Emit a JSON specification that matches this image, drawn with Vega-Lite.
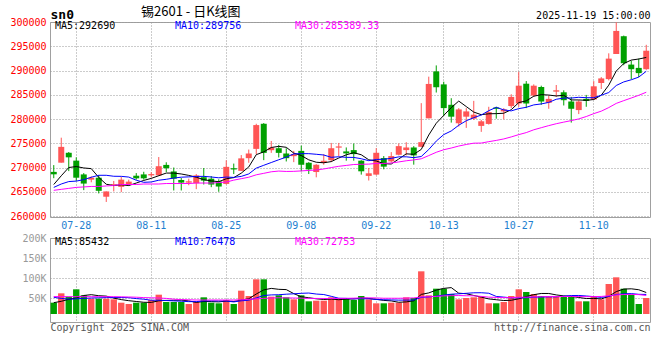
{
"$schema": "https://vega.github.io/schema/vega-lite/v6.json",
"autosize": {"type": "pad"},
"padding": {"left": 9, "top": 5, "right": 11, "bottom": 0},
"background": "#FFFFFF",
"bounds": "flush",
"spacing": 21,
"config": {
  "view": {"stroke": "#A0A0A0", "strokeWidth": 1},
  "axis": {"labelFont": "DejaVu Sans Mono", "labelFontSize": 10, "tickSize": 0, "domain": false, "gridColor": "#999999", "gridDash": [1, 2], "gridWidth": 1, "labelPadding": 4, "titleFont": "DejaVu Sans Mono", "titleFontWeight": "normal", "titleFontSize": 10, "titleColor": "#000000"}
},
"resolve": {"scale": {"color": "independent"}, "legend": {"color": "independent"}},
"datasets": {"k": [
{"d":"2025-07-23","o":269100,"h":270500,"l":267800,"c":268600,"ma5":266500,"ma10":265900,"ma30":265300,"vol":38300,"vma5":38300,"vma10":51700,"vma30":53500},
{"d":"2025-07-24","o":271000,"h":276150,"l":271000,"c":274260,"ma5":268300,"ma10":266600,"ma30":265500,"vol":61700,"vma5":41700,"vma10":49000,"vma30":53500},
{"d":"2025-07-25","o":273040,"h":273200,"l":269260,"c":272100,"ma5":270000,"ma10":267100,"ma30":265700,"vol":53300,"vma5":46700,"vma10":47000,"vma30":53300},
{"d":"2025-07-28","o":271420,"h":272100,"l":267230,"c":267900,"ma5":270200,"ma10":267200,"ma30":265900,"vol":71700,"vma5":50000,"vma10":48000,"vma30":53300},
{"d":"2025-07-29","o":268580,"h":268850,"l":265340,"c":266690,"ma5":269910,"ma10":267500,"ma30":266000,"vol":56700,"vma5":56300,"vma10":49000,"vma30":53300},
{"d":"2025-07-30","o":267500,"h":268170,"l":266960,"c":267900,"ma5":269770,"ma10":268000,"ma30":266100,"vol":48300,"vma5":58300,"vma10":50000,"vma30":53300},
{"d":"2025-07-31","o":267900,"h":268450,"l":264660,"c":265200,"ma5":267960,"ma10":268400,"ma30":266100,"vol":48300,"vma5":55700,"vma10":50500,"vma30":53300},
{"d":"2025-08-01","o":263980,"h":265070,"l":262900,"c":265070,"ma5":266550,"ma10":268400,"ma30":266200,"vol":48300,"vma5":54700,"vma10":51000,"vma30":53300},
{"d":"2025-08-04","o":266280,"h":267230,"l":265070,"c":266550,"ma5":266280,"ma10":268200,"ma30":266300,"vol":46700,"vma5":49700,"vma10":51200,"vma30":53300},
{"d":"2025-08-05","o":266010,"h":268040,"l":264930,"c":267500,"ma5":266440,"ma10":268180,"ma30":266500,"vol":38300,"vma5":46000,"vma10":51200,"vma30":53000},
{"d":"2025-08-06","o":266550,"h":267500,"l":266280,"c":267090,"ma5":266280,"ma10":268030,"ma30":266500,"vol":35000,"vma5":43300,"vma10":50800,"vma30":52500},
{"d":"2025-08-07","o":268310,"h":268850,"l":267500,"c":267770,"ma5":266800,"ma10":267380,"ma30":266500,"vol":38300,"vma5":41300,"vma10":48500,"vma30":52000},
{"d":"2025-08-08","o":268580,"h":269120,"l":267500,"c":267770,"ma5":267340,"ma10":266950,"ma30":266600,"vol":38300,"vma5":39300,"vma10":47000,"vma30":51000},
{"d":"2025-08-11","o":268380,"h":269050,"l":267970,"c":268650,"ma5":267760,"ma10":267020,"ma30":266600,"vol":45000,"vma5":39000,"vma10":44400,"vma30":50500},
{"d":"2025-08-12","o":268380,"h":272160,"l":268240,"c":270270,"ma5":268310,"ma10":267380,"ma30":266600,"vol":58300,"vma5":43000,"vma10":44500,"vma30":50000},
{"d":"2025-08-13","o":270540,"h":271080,"l":269050,"c":269860,"ma5":268860,"ma10":267570,"ma30":266700,"vol":40000,"vma5":44000,"vma10":43700,"vma30":49000},
{"d":"2025-08-14","o":269190,"h":270000,"l":265270,"c":267700,"ma5":268850,"ma10":267830,"ma30":266700,"vol":40000,"vma5":44300,"vma10":42800,"vma30":47000},
{"d":"2025-08-15","o":267430,"h":267840,"l":265270,"c":266890,"ma5":268670,"ma10":268010,"ma30":266700,"vol":40000,"vma5":44700,"vma10":42000,"vma30":46000},
{"d":"2025-08-18","o":266890,"h":267700,"l":266350,"c":267160,"ma5":268380,"ma10":268070,"ma30":266700,"vol":35000,"vma5":42700,"vma10":40900,"vma30":45500},
{"d":"2025-08-19","o":266760,"h":268650,"l":265540,"c":268380,"ma5":268000,"ma10":268160,"ma30":266800,"vol":40000,"vma5":39000,"vma10":41000,"vma30":45000},
{"d":"2025-08-20","o":268000,"h":269900,"l":266500,"c":267300,"ma5":267490,"ma10":268180,"ma30":266800,"vol":51700,"vma5":41300,"vma10":42700,"vma30":45000},
{"d":"2025-08-21","o":267700,"h":268240,"l":265950,"c":266490,"ma5":267240,"ma10":268050,"ma30":266800,"vol":38300,"vma5":41000,"vma10":42700,"vma30":45000},
{"d":"2025-08-22","o":267160,"h":267570,"l":265000,"c":266080,"ma5":267080,"ma10":267880,"ma30":266900,"vol":36700,"vma5":40300,"vma10":42500,"vma30":45000},
{"d":"2025-08-25","o":266620,"h":271490,"l":266490,"c":270140,"ma5":267680,"ma10":268030,"ma30":267000,"vol":45000,"vma5":42300,"vma10":42500,"vma30":45000},
{"d":"2025-08-26","o":269860,"h":270810,"l":268650,"c":269600,"ma5":267920,"ma10":267960,"ma30":267400,"vol":35000,"vma5":41300,"vma10":40200,"vma30":45000},
{"d":"2025-08-27","o":269320,"h":272570,"l":269320,"c":271890,"ma5":268840,"ma10":268170,"ma30":267700,"vol":68300,"vma5":44700,"vma10":43000,"vma30":45500},
{"d":"2025-08-28","o":271930,"h":273700,"l":270980,"c":272890,"ma5":270120,"ma10":268680,"ma30":268000,"vol":55000,"vma5":48000,"vma10":44500,"vma30":46500},
{"d":"2025-08-29","o":273840,"h":279020,"l":272750,"c":278750,"ma5":272650,"ma10":269870,"ma30":268500,"vol":96700,"vma5":60000,"vma10":50200,"vma30":48000},
{"d":"2025-09-01","o":279020,"h":279160,"l":271520,"c":273020,"ma5":273230,"ma10":270460,"ma30":268800,"vol":96700,"vma5":70300,"vma10":56300,"vma30":49000},
{"d":"2025-09-02","o":273570,"h":275480,"l":273020,"c":274110,"ma5":274130,"ma10":271030,"ma30":269120,"vol":53300,"vma5":74000,"vma10":57700,"vma30":50000},
{"d":"2025-09-03","o":273980,"h":274660,"l":272070,"c":273020,"ma5":274360,"ma10":271600,"ma30":269270,"vol":56700,"vma5":71700,"vma10":58200,"vma30":50600},
{"d":"2025-09-04","o":272890,"h":273980,"l":271250,"c":271930,"ma5":274170,"ma10":272150,"ma30":269190,"vol":51700,"vma5":71000,"vma10":59500,"vma30":50200},
{"d":"2025-09-05","o":272340,"h":273430,"l":271110,"c":272750,"ma5":272970,"ma10":272810,"ma30":269210,"vol":46700,"vma5":61000,"vma10":60500,"vma30":50000},
{"d":"2025-09-08","o":273430,"h":274520,"l":269200,"c":270570,"ma5":272480,"ma10":272860,"ma30":269300,"vol":56700,"vma5":53000,"vma10":61700,"vma30":49500},
{"d":"2025-09-09","o":270980,"h":271110,"l":268660,"c":269610,"ma5":271580,"ma10":272860,"ma30":269400,"vol":41700,"vma5":50700,"vma10":62400,"vma30":49000},
{"d":"2025-09-10","o":269070,"h":270700,"l":267980,"c":270570,"ma5":271090,"ma10":272730,"ma30":269490,"vol":43300,"vma5":48000,"vma10":59900,"vma30":48900},
{"d":"2025-09-11","o":270980,"h":272750,"l":270570,"c":271390,"ma5":270980,"ma10":272580,"ma30":269700,"vol":43300,"vma5":46300,"vma10":58700,"vma30":48700},
{"d":"2025-09-12","o":271520,"h":275070,"l":271110,"c":273980,"ma5":271220,"ma10":272100,"ma30":269990,"vol":51700,"vma5":47300,"vma10":54200,"vma30":48800},
{"d":"2025-09-15","o":274100,"h":275070,"l":272340,"c":274350,"ma5":271960,"ma10":272220,"ma30":270250,"vol":48300,"vma5":45700,"vma10":49400,"vma30":48900},
{"d":"2025-09-16","o":273320,"h":274140,"l":271410,"c":272910,"ma5":272620,"ma10":272100,"ma30":270430,"vol":50000,"vma5":47300,"vma10":49000,"vma30":49200},
{"d":"2025-09-17","o":273590,"h":274950,"l":271410,"c":272770,"ma5":273060,"ma10":272080,"ma30":270620,"vol":45000,"vma5":47700,"vma10":47900,"vma30":49600},
{"d":"2025-09-18","o":271410,"h":271500,"l":268540,"c":269220,"ma5":272630,"ma10":271810,"ma30":270670,"vol":55000,"vma5":50000,"vma10":48200,"vma30":50100},
{"d":"2025-09-19","o":268270,"h":269900,"l":267320,"c":268810,"ma5":271590,"ma10":271410,"ma30":270700,"vol":46700,"vma5":49000,"vma10":48200,"vma30":50400},
{"d":"2025-09-22","o":268540,"h":274000,"l":268400,"c":273040,"ma5":271350,"ma10":271660,"ma30":270850,"vol":36700,"vma5":46700,"vma10":46200,"vma30":50100},
{"d":"2025-09-23","o":271950,"h":272360,"l":269630,"c":270180,"ma5":270800,"ma10":271710,"ma30":270840,"vol":36700,"vma5":44000,"vma10":45700,"vma30":49400},
{"d":"2025-09-24","o":271270,"h":273180,"l":271000,"c":272360,"ma5":270720,"ma10":271890,"ma30":270930,"vol":38300,"vma5":42700,"vma10":45200,"vma30":49400},
{"d":"2025-09-25","o":272630,"h":274950,"l":272500,"c":274410,"ma5":271760,"ma10":272200,"ma30":271150,"vol":38300,"vma5":39300,"vma10":44700,"vma30":49300},
{"d":"2025-09-26","o":273590,"h":275220,"l":272500,"c":274130,"ma5":272820,"ma10":272210,"ma30":271390,"vol":51700,"vma5":40300,"vma10":44700,"vma30":49700},
{"d":"2025-09-29","o":274130,"h":274410,"l":270590,"c":272500,"ma5":272720,"ma10":272040,"ma30":271570,"vol":50000,"vma5":43000,"vma10":44900,"vma30":50200},
{"d":"2025-09-30","o":274270,"h":283270,"l":274200,"c":275230,"ma5":273730,"ma10":272270,"ma30":271800,"vol":116700,"vma5":59000,"vma10":51500,"vma30":52700},
{"d":"2025-10-09","o":280140,"h":288730,"l":280140,"c":287230,"ma5":276700,"ma10":273710,"ma30":272460,"vol":56700,"vma5":62700,"vma10":52700,"vma30":52900},
{"d":"2025-10-10","o":289820,"h":291050,"l":285460,"c":286550,"ma5":279130,"ma10":275450,"ma30":273140,"vol":73300,"vma5":69700,"vma10":54500,"vma30":54100},
{"d":"2025-10-13","o":287140,"h":287690,"l":280620,"c":282250,"ma5":280750,"ma10":276790,"ma30":273670,"vol":73300,"vma5":74000,"vma10":57200,"vma30":55300},
{"d":"2025-10-14","o":282930,"h":284290,"l":279260,"c":280480,"ma5":282350,"ma10":277540,"ma30":274020,"vol":60000,"vma5":76000,"vma10":59500,"vma30":55800},
{"d":"2025-10-15","o":279120,"h":282250,"l":278440,"c":281980,"ma5":283700,"ma10":278720,"ma30":274430,"vol":46700,"vma5":62000,"vma10":60500,"vma30":56200},
{"d":"2025-10-16","o":280480,"h":282250,"l":278170,"c":281570,"ma5":282570,"ma10":279640,"ma30":274750,"vol":50000,"vma5":60700,"vma10":61700,"vma30":55600},
{"d":"2025-10-17","o":280070,"h":283740,"l":279800,"c":280890,"ma5":281430,"ma10":280280,"ma30":275020,"vol":51700,"vma5":56300,"vma10":63000,"vma30":55500},
{"d":"2025-10-20","o":278580,"h":279800,"l":277350,"c":279530,"ma5":280890,"ma10":280820,"ma30":275040,"vol":53300,"vma5":52300,"vma10":63200,"vma30":54000},
{"d":"2025-10-21","o":278990,"h":282520,"l":278850,"c":281430,"ma5":281080,"ma10":281720,"ma30":275330,"vol":36700,"vma5":47700,"vma10":61900,"vma30":52100},
{"d":"2025-10-22","o":282380,"h":282520,"l":280070,"c":282110,"ma5":281110,"ma10":282410,"ma30":275590,"vol":36700,"vma5":45700,"vma10":53900,"vma30":51500},
{"d":"2025-10-23","o":281570,"h":282250,"l":279940,"c":281980,"ma5":281190,"ma10":281880,"ma30":275890,"vol":40000,"vma5":43700,"vma10":52200,"vma30":50900},
{"d":"2025-10-24","o":282660,"h":285100,"l":282250,"c":284560,"ma5":281920,"ma10":281680,"ma30":276310,"vol":55000,"vma5":44300,"vma10":50300,"vma30":51000},
{"d":"2025-10-27","o":283200,"h":289730,"l":282520,"c":286870,"ma5":283390,"ma10":282140,"ma30":276780,"vol":71700,"vma5":48000,"vma10":50200,"vma30":51900},
{"d":"2025-10-28","o":287280,"h":287820,"l":282250,"c":283200,"ma5":283740,"ma10":282410,"ma30":277200,"vol":65000,"vma5":53700,"vma10":50700,"vma30":52100},
{"d":"2025-10-29","o":284830,"h":287140,"l":284560,"c":286870,"ma5":284700,"ma10":282910,"ma30":277780,"vol":60000,"vma5":58300,"vma10":52000,"vma30":52700},
{"d":"2025-10-30","o":286600,"h":286870,"l":282930,"c":283610,"ma5":285020,"ma10":283110,"ma30":278210,"vol":55000,"vma5":61300,"vma10":52500,"vma30":53100},
{"d":"2025-10-31","o":283340,"h":284830,"l":282110,"c":284150,"ma5":284940,"ma10":283430,"ma30":278640,"vol":55000,"vma5":61300,"vma10":52800,"vma30":53500},
{"d":"2025-11-03","o":285650,"h":287010,"l":284560,"c":285920,"ma5":284750,"ma10":284070,"ma30":279030,"vol":53300,"vma5":57700,"vma10":52900,"vma30":53600},
{"d":"2025-11-04","o":285510,"h":285920,"l":282790,"c":283880,"ma5":284890,"ma10":284320,"ma30":279360,"vol":53300,"vma5":55300,"vma10":54500,"vma30":53800},
{"d":"2025-11-05","o":283610,"h":284560,"l":279260,"c":282110,"ma5":283930,"ma10":284320,"ma30":279670,"vol":53300,"vma5":54000,"vma10":56200,"vma30":53900},
{"d":"2025-11-06","o":281840,"h":283880,"l":281020,"c":283610,"ma5":283930,"ma10":284480,"ma30":280020,"vol":41700,"vma5":51300,"vma10":56300,"vma30":53700},
{"d":"2025-11-07","o":284150,"h":284970,"l":282520,"c":283740,"ma5":283850,"ma10":284400,"ma30":280510,"vol":41700,"vma5":48700,"vma10":55000,"vma30":53300},
{"d":"2025-11-10","o":284020,"h":287820,"l":284000,"c":286740,"ma5":284020,"ma10":284390,"ma30":281110,"vol":55000,"vma5":49000,"vma10":53400,"vma30":53600},
{"d":"2025-11-11","o":287420,"h":288640,"l":286190,"c":288370,"ma5":284910,"ma10":284900,"ma30":281620,"vol":46700,"vma5":47700,"vma10":51500,"vma30":53900},
{"d":"2025-11-12","o":288230,"h":293540,"l":287960,"c":292450,"ma5":286980,"ma10":285460,"ma30":282360,"vol":85000,"vma5":54000,"vma10":54000,"vma30":55500},
{"d":"2025-11-13","o":293400,"h":299930,"l":293400,"c":298160,"ma5":289890,"ma10":286910,"ma30":283220,"vol":101700,"vma5":66000,"vma10":58700,"vma30":57600},
{"d":"2025-11-14","o":297070,"h":297200,"l":291090,"c":291500,"ma5":291440,"ma10":287650,"ma30":283790,"vol":73300,"vma5":72300,"vma10":60500,"vma30":58800},
{"d":"2025-11-17","o":291220,"h":292040,"l":288230,"c":290270,"ma5":292150,"ma10":288090,"ma30":284330,"vol":58300,"vma5":73000,"vma10":61000,"vma30":59000},
{"d":"2025-11-18","o":290540,"h":292450,"l":288640,"c":289460,"ma5":292370,"ma10":288640,"ma30":284890,"vol":35000,"vma5":70700,"vma10":59200,"vma30":58500},
{"d":"2025-11-19","o":290270,"h":295300,"l":290140,"c":294080,"ma5":292690,"ma10":289840,"ma30":285520,"vol":50000,"vma5":63700,"vma10":58900,"vma30":56300}
]},
"vconcat": [
{
  "width": 600, "height": 195,
  "title": {"text": "锡2601 - 日K线图", "anchor": "start", "frame": "group", "dx": 91, "dy": 13, "font": "Noto Sans CJK SC", "fontSize": 13, "fontWeight": "normal", "color": "#000000", "offset": 2},
  "data": {"name": "k"},
  "encoding": {
    "x": {"field": "d", "type": "ordinal", "scale": {"type": "band", "paddingInner": 0, "paddingOuter": 0},
          "axis": {"values": ["2025-07-28", "2025-08-11", "2025-08-25", "2025-09-08", "2025-09-22", "2025-10-13", "2025-10-27", "2025-11-10"],
                   "labelExpr": "slice(datum.value, 5)", "labelColor": "#1E7FD0", "labelPadding": 3, "labelAngle": 0, "grid": true,
                   "title": "2025-11-19 15:00:00", "titleX": 600, "titleY": -198.5, "titleAlign": "right", "titleBaseline": "alphabetic", "titleFontSize": 10}},
    "y": {"type": "quantitative", "scale": {"domain": [259800, 300000], "nice": false, "zero": false},
          "axis": {"values": [260000, 265000, 270000, 275000, 280000, 285000, 290000, 295000, 300000], "format": "d", "labelColor": "#FF0000", "grid": true,
                   "title": "sn0", "titleAngle": 0, "titleX": 0, "titleY": -4, "titleAlign": "left", "titleBaseline": "alphabetic", "titleFontSize": 13, "titleFontWeight": "bold"}}
  },
  "layer": [
    {
      "mark": {"type": "rule", "strokeWidth": 1},
      "encoding": {
        "y": {"field": "l"},
        "y2": {"field": "h"},
        "color": {"condition": {"test": "datum.c >= datum.o", "value": "#FF5555"}, "value": "#00A000"}
      }
    },
    {
      "mark": {"type": "bar", "width": {"band": 0.8}},
      "encoding": {
        "y": {"field": "o"},
        "y2": {"field": "c"},
        "color": {"condition": {"test": "datum.c >= datum.o", "value": "#FF5555"}, "value": "#00A000"}
      }
    },
    {
      "transform": [{"fold": ["ma5", "ma10", "ma30"], "as": ["k", "v"]}],
      "mark": {"type": "line", "strokeWidth": 1},
      "encoding": {
        "y": {"field": "v"},
        "color": {"field": "k", "type": "nominal", "scale": {"domain": ["ma5", "ma10", "ma30"], "range": ["#000000", "#0000FF", "#FF00FF"]},
          "legend": {"orient": "none", "legendX": -5, "legendY": -1, "direction": "horizontal", "columns": 3, "title": null,
                     "symbolSize": 0, "symbolStrokeWidth": 0, "symbolOpacity": 0, "labelOffset": 0, "columnPadding": 25, "gridAlign": "all", "padding": 0,
                     "labelFont": "DejaVu Sans Mono", "labelFontSize": 10,
                     "labelExpr": "{'ma5': 'MA5:292690', 'ma10': 'MA10:289756', 'ma30': 'MA30:285389.33'}[datum.value]",
                     "encode": {"labels": {"update": {"fill": [{"test": "datum.value === 'ma10'", "value": "#0000FF"}, {"test": "datum.value === 'ma30'", "value": "#FF00FF"}, {"value": "#000000"}]}}}}}
      }
    }
  ]
},
{
  "width": 600, "height": 84,
  "data": {"name": "k"},
  "encoding": {
    "x": {"field": "d", "type": "ordinal", "scale": {"type": "band", "paddingInner": 0, "paddingOuter": 0},
          "axis": {"values": ["2025-07-28", "2025-08-11", "2025-08-25", "2025-09-08", "2025-09-22", "2025-10-13", "2025-10-27", "2025-11-10"],
                   "labels": false, "grid": true,
                   "title": "http://finance.sina.com.cn", "titleX": 600, "titleY": 8, "titleAlign": "right", "titleBaseline": "alphabetic", "titleFontSize": 10, "titleColor": "#555555"}},
    "y": {"type": "quantitative", "scale": {"domain": [-10000, 200000], "nice": false, "zero": false},
          "axis": {"values": [50000, 100000, 150000, 200000], "labelExpr": "(datum.value / 1000) + 'K'", "labelColor": "#999999", "grid": true,
                   "title": "Copyright 2025 SINA.COM", "titleAngle": 0, "titleX": 0, "titleY": 92, "titleAlign": "left", "titleBaseline": "alphabetic", "titleFontSize": 10, "titleColor": "#555555"}}
  },
  "layer": [
    {
      "mark": {"type": "bar", "width": {"band": 0.85}},
      "encoding": {
        "y": {"field": "vol"},
        "y2": {"datum": 10000},
        "color": {"condition": {"test": "datum.c >= datum.o", "value": "#FF5555"}, "value": "#00A000"}
      }
    },
    {
      "transform": [{"fold": ["vma5", "vma10", "vma30"], "as": ["k", "v"]}],
      "mark": {"type": "line", "strokeWidth": 1},
      "encoding": {
        "y": {"field": "v"},
        "color": {"field": "k", "type": "nominal", "scale": {"domain": ["vma5", "vma10", "vma30"], "range": ["#000000", "#0000FF", "#FF00FF"]},
          "legend": {"orient": "none", "legendX": -5, "legendY": -1.5, "direction": "horizontal", "columns": 3, "title": null,
                     "symbolSize": 0, "symbolStrokeWidth": 0, "symbolOpacity": 0, "labelOffset": 0, "columnPadding": 49, "gridAlign": "all", "padding": 0,
                     "labelFont": "DejaVu Sans Mono", "labelFontSize": 10,
                     "labelExpr": "{'vma5': 'MA5:85432', 'vma10': 'MA10:76478', 'vma30': 'MA30:72753'}[datum.value]",
                     "encode": {"labels": {"update": {"fill": [{"test": "datum.value === 'vma10'", "value": "#0000FF"}, {"test": "datum.value === 'vma30'", "value": "#FF00FF"}, {"value": "#000000"}]}}}}}
      }
    }
  ]
}
]
}
